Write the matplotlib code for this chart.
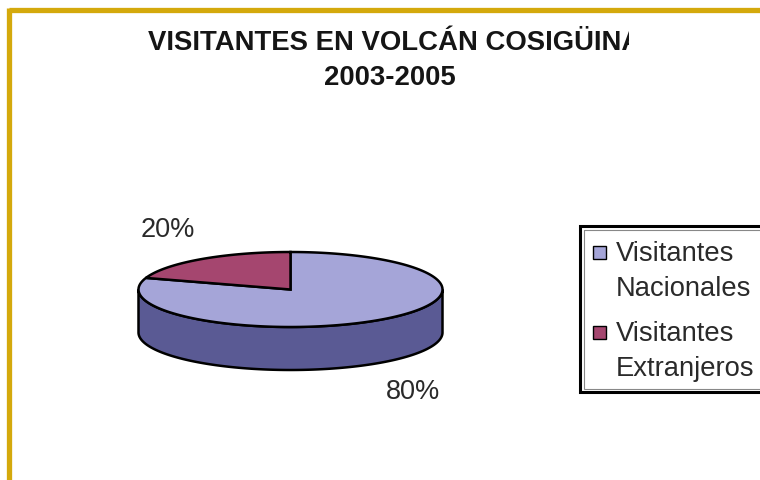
import numpy as np
import matplotlib.pyplot as plt
from matplotlib.patches import Polygon, Rectangle

# datos del grafico
titulo = 'VISITANTES EN VOLCÁN COSIGÜINA'
subtitulo = '2003-2005'
categorias = ['Visitantes\nNacionales', 'Visitantes\nExtranjeros']
valores = [80, 20]
etiquetas = ['80%', '20%']
color_arriba = ['#A5A5D8', '#A5466F']
color_lado = ['#5A5A94', '#6A2A47']

plt.rcParams['font.family'] = ['Liberation Sans', 'DejaVu Sans']

fig = plt.figure(figsize=(7.6, 4.8), dpi=100)
ax = fig.add_axes([0, 0, 1, 1])
ax.set_xlim(0, 760)
ax.set_ylim(480, 0)
ax.axis('off')

# borde dorado (arriba e izquierda)
ax.plot([8.5, 760], [9.5, 9.5], color='#D4A90C', lw=3.8, solid_capstyle='butt')
ax.plot([8.5, 8.5], [7.6, 480], color='#D4A90C', lw=3.8, solid_capstyle='butt')

# titulo recortado a la derecha
clip = Rectangle((0, 0), 629, 480, transform=ax.transData, visible=False)
ax.add_patch(clip)
t = ax.text(148, 43, titulo, fontsize=19.85, fontweight='bold', ha='left', va='center',
            color='#151515', clip_on=True)
t.set_clip_path(clip)
ax.text(390, 78, subtitulo, fontsize=19.8, fontweight='bold', ha='center', va='center', color='#151515')

# pastel 3D
cx, cy, rx, ry, prof = 290.5, 289.5, 152, 37.5, 43
total = sum(valores)

def borde(a0, a1, n=200):
    t = np.radians(np.linspace(a0, a1, n))
    return cx + rx * np.cos(t), cy - ry * np.sin(t)

inicio = 90.0
rangos = []
for v in valores:
    fin = inicio - 360.0 * v / total
    rangos.append((inicio, fin))
    inicio = fin

# paredes laterales (parte frontal, 180-360 grados)
for (a0, a1), c in zip(rangos, color_lado):
    lo, hi = min(a0, a1), max(a0, a1)
    for k in (-360, 0, 360):
        s, e = max(lo + k, 180), min(hi + k, 360)
        if e > s:
            x, y = borde(s, e)
            pts = np.column_stack([np.r_[x, x[::-1]], np.r_[y, y[::-1] + prof]])
            ax.add_patch(Polygon(pts, closed=True, facecolor=c, edgecolor='black', lw=1.8, zorder=2))

# caras superiores
for (a0, a1), c in zip(rangos, color_arriba):
    x, y = borde(a0, a1)
    pts = np.column_stack([np.r_[cx, x, cx], np.r_[cy, y, cy]])
    ax.add_patch(Polygon(pts, closed=True, facecolor=c, edgecolor='black', lw=1.8, zorder=3))

# etiquetas de porcentaje
for (a0, a1), lab in zip(rangos, etiquetas):
    m = np.radians((a0 + a1) / 2)
    lx = cx + 1.37 * rx * np.cos(m)
    ly = cy - 1.95 * ry * np.sin(m)
    if np.sin(m) < 0:
        ly += prof
    ax.text(lx, ly, lab, fontsize=19.5, ha='center', va='center', color='#2a2a2a')

# leyenda
ax.add_patch(Rectangle((580, 226), 200, 166, facecolor='white', edgecolor='black', lw=2.2, zorder=4))
ax.add_patch(Rectangle((583.5, 229.5), 200, 159, facecolor='none', edgecolor='#888888', lw=0.8, zorder=4))
for i, (cat, c) in enumerate(zip(categorias, color_arriba)):
    y0 = 252 + i * 80
    ax.add_patch(Rectangle((593, y0 - 6.5), 13, 13, facecolor=c, edgecolor='black', lw=1.0, zorder=5))
    ax.text(616, y0 + 19.5, cat, fontsize=19.7, ha='left', va='center', linespacing=1.48,
            color='#2a2a2a', zorder=5)

fig.savefig('out.png', dpi=100)
